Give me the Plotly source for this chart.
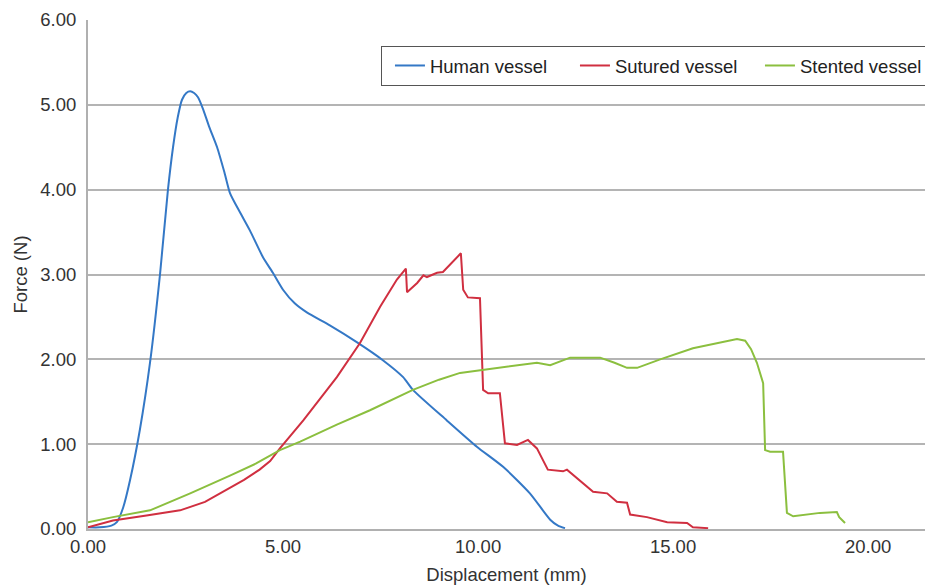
import plotly.graph_objects as go

human_x = [0.0, 0.3, 0.6, 0.74, 0.9, 1.08, 1.33, 1.59, 1.85, 2.05, 2.18, 2.3, 2.41, 2.52, 2.62, 2.72, 2.82, 2.95, 3.1, 3.31, 3.5, 3.64, 3.9, 4.15, 4.49, 4.74, 5.0, 5.3, 5.62, 6.2, 6.9, 7.56, 8.08, 8.33, 9.2, 9.97, 10.65, 11.33, 11.85, 12.05, 12.23]
human_y = [0.02, 0.02, 0.04, 0.08, 0.25, 0.58, 1.17, 1.96, 3.02, 4.0, 4.5, 4.85, 5.06, 5.14, 5.16, 5.14, 5.09, 4.95, 4.75, 4.5, 4.2, 3.96, 3.73, 3.52, 3.2, 3.02, 2.82, 2.66, 2.55, 2.4, 2.2, 1.99, 1.79, 1.64, 1.28, 0.97, 0.73, 0.42, 0.11, 0.04, 0.01]

sutured_x = [0.0, 0.64, 1.5, 2.36, 3.0, 3.38, 4.0, 4.4, 4.67, 4.92, 5.52, 6.38, 6.97, 7.49, 7.92, 8.15, 8.18, 8.44, 8.6, 8.69, 8.95, 9.1, 9.56, 9.62, 9.74, 10.05, 10.13, 10.26, 10.56, 10.69, 11.0, 11.28, 11.51, 11.79, 12.18, 12.28, 12.69, 12.95, 13.31, 13.56, 13.82, 13.9, 14.33, 14.85, 15.36, 15.51, 15.9]
sutured_y = [0.02, 0.1, 0.16, 0.22, 0.32, 0.42, 0.58, 0.7, 0.8, 0.95, 1.28, 1.79, 2.19, 2.62, 2.94, 3.07, 2.79, 2.9, 2.99, 2.97, 3.02, 3.03, 3.25, 2.82, 2.73, 2.72, 1.64, 1.6, 1.6, 1.01, 0.99, 1.05, 0.95, 0.7, 0.68, 0.7, 0.54, 0.44, 0.42, 0.32, 0.31, 0.17, 0.14, 0.08, 0.07, 0.02, 0.01]

stented_x = [0.0, 0.64, 1.59, 2.62, 3.64, 4.3, 4.92, 5.44, 6.38, 7.23, 8.33, 9.0, 9.54, 10.49, 11.51, 11.85, 12.1, 12.36, 12.95, 13.13, 13.5, 13.82, 14.08, 14.67, 15.51, 16.64, 16.85, 17.0, 17.15, 17.31, 17.36, 17.49, 17.82, 17.92, 18.08, 18.77, 19.2, 19.26, 19.41]
stented_y = [0.08, 0.14, 0.22, 0.42, 0.63, 0.77, 0.93, 1.03, 1.23, 1.4, 1.64, 1.76, 1.84, 1.9, 1.96, 1.93, 1.97, 2.02, 2.02, 2.02, 1.96, 1.9, 1.9, 2.0, 2.13, 2.24, 2.22, 2.12, 1.96, 1.72, 0.93, 0.91, 0.91, 0.19, 0.15, 0.19, 0.2, 0.14, 0.07]

x_ticks = [0, 5, 10, 15, 20]
y_ticks = [0, 1, 2, 3, 4, 5, 6]

font = "Liberation Sans, Arial, sans-serif"
fig = go.Figure()
fig.add_trace(go.Scatter(x=human_x, y=human_y, mode="lines", name="Human vessel",
                         line=dict(color="#3478c6", width=2, shape="spline", smoothing=0.6)))
fig.add_trace(go.Scatter(x=sutured_x, y=sutured_y, mode="lines", name="Sutured vessel",
                         line=dict(color="#d02f40", width=2)))
fig.add_trace(go.Scatter(x=stented_x, y=stented_y, mode="lines", name="Stented vessel",
                         line=dict(color="#8bbf3f", width=2)))

fig.update_layout(
    width=925, height=585,
    margin=dict(l=88, r=0, t=20, b=56, autoexpand=False),
    plot_bgcolor="white", paper_bgcolor="white",
    font=dict(family=font, size=18.5, color="#333333"),
    showlegend=True,
    legend=dict(orientation="h", x=0.35, y=0.949, xanchor="left", yanchor="top",
                bordercolor="#555555", borderwidth=1, bgcolor="white",
                font=dict(size=18.5, color="#222222"), itemwidth=30,
                entrywidth=132, indentation=8),
    xaxis=dict(range=[0, 21.46], tickvals=x_ticks, tickformat=".2f",
               showgrid=False, showline=True, linecolor="#b0b0b0", linewidth=2,
               ticks="", zeroline=False, automargin=False,
               title=dict(text="Displacement (mm)", standoff=13, font=dict(size=18.5))),
    yaxis=dict(range=[0, 6], tickvals=y_ticks, tickformat=".2f",
               showgrid=True, gridcolor="#b4b4b4", gridwidth=2,
               showline=True, linecolor="#b0b0b0", linewidth=2,
               ticks="", zeroline=False, automargin=False, ticklabelstandoff=6,
               title=dict(text="Force (N)", standoff=8, font=dict(size=18.5))),
)
fig.write_html("out.html", config={"displayModeBar": False},
               post_script="document.body.style.margin='0';document.body.style.overflow='hidden';")
